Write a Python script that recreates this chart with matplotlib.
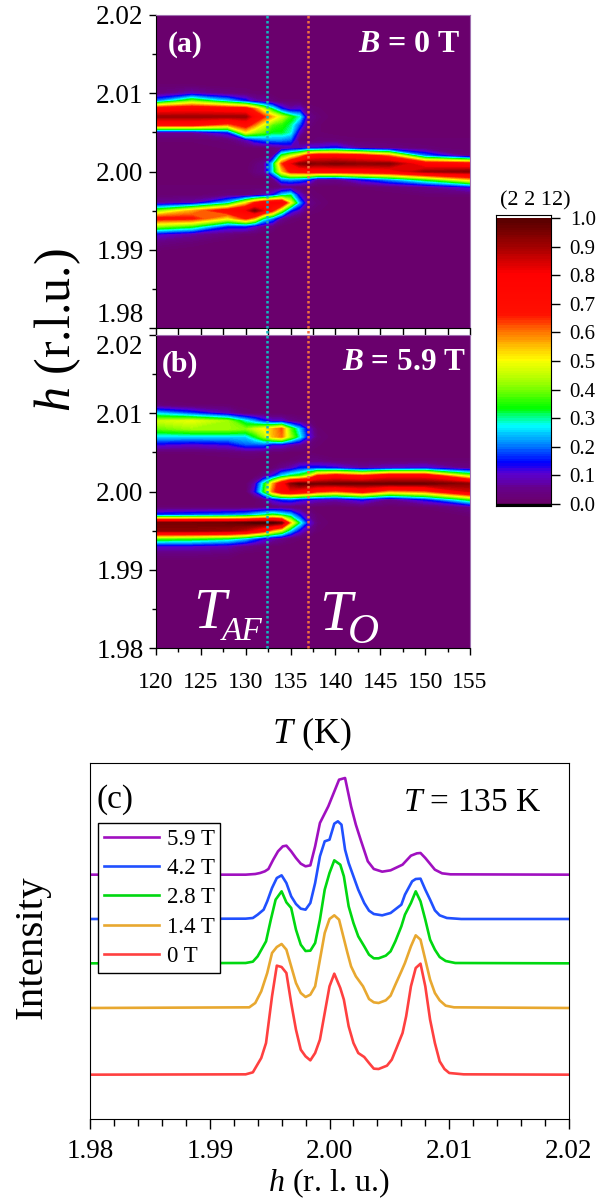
import matplotlib
matplotlib.use('Agg')
import matplotlib.pyplot as plt
import numpy as np
from matplotlib.colors import LinearSegmentedColormap
from matplotlib.ticker import MultipleLocator, FormatStrFormatter

plt.rcParams['font.family'] = ['Liberation Serif']
plt.rcParams['mathtext.fontset'] = 'custom'
plt.rcParams['mathtext.rm'] = 'Liberation Serif'
plt.rcParams['mathtext.it'] = 'Liberation Serif:italic'
plt.rcParams['mathtext.bf'] = 'Liberation Serif:bold'
plt.rcParams['mathtext.bfit'] = 'Liberation Serif:italic:bold'

# map rows, h = 1.990 ... 2.011, one list per temperature
h_rows = [1.990, 1.991, 1.992, 1.993, 1.994, 1.995, 1.996, 1.997, 1.998, 1.999, 2.000,
          2.001, 2.002, 2.003, 2.004, 2.005, 2.006, 2.007, 2.008, 2.009, 2.010, 2.011]
T_cols = [120, 124, 128, 130, 131, 132, 133, 134, 135, 136, 137, 138, 140, 143, 146, 150, 155]

map_0T = [
    [.01, .04, .12, .42, .68, .38, .06, .01, .01, 0, 0, 0, 0, 0, .01, .06, .72, .90, .74, .20, .03, .01],
    [0, .02, .07, .35, .67, .55, .08, .01, .01, 0, 0, 0, 0, 0, .01, .06, .72, .90, .76, .40, .08, .01],
    [0, 0, .03, .15, .50, .72, .25, .03, .01, 0, 0, 0, 0, .01, .02, .14, .60, .90, .74, .25, .03, 0],
    [0, 0, .01, .15, .66, .80, .50, .03, .01, 0, 0, 0, 0, .01, .08, .50, .72, .90, .72, .15, .02, 0],
    [0, 0, .01, .10, .55, .94, .65, .05, .01, 0, .03, .02, 0, .01, .15, .42, .60, .76, .60, .08, .01, 0],
    [0, 0, 0, .05, .30, .82, .76, .07, .01, 0, .05, .05, 0, .01, .18, .38, .48, .65, .45, .06, .01, 0],
    [0, 0, 0, .03, .20, .65, .80, .13, .01, .03, .26, .26, .05, .03, .20, .32, .38, .55, .30, .03, 0, 0],
    [0, 0, 0, 0, .06, .40, .80, .25, .02, .20, .52, .62, .35, .05, .20, .32, .35, .45, .15, .01, 0, 0],
    [0, 0, 0, 0, .02, .15, .50, .30, .03, .22, .68, .80, .45, .07, .18, .28, .30, .35, .08, .01, 0, 0],
    [0, 0, 0, 0, .01, .08, .22, .10, .02, .20, .70, .92, .55, .08, .02, .08, .18, .28, .10, .01, 0, 0],
    [0, 0, 0, 0, 0, .02, .05, .02, .01, .16, .72, .94, .70, .12, .01, .01, .03, .05, .02, 0, 0, 0],
    [0, 0, 0, 0, 0, .01, .02, .01, 0, .06, .72, .92, .76, .12, .02, .01, .01, .02, .01, 0, 0, 0],
    [0, 0, 0, 0, 0, 0, 0, 0, 0, .05, .72, .94, .76, .15, .02, 0, 0, 0, 0, 0, 0, 0],
    [0, 0, 0, 0, 0, 0, 0, 0, .01, .14, .74, .92, .72, .06, .01, 0, 0, 0, 0, 0, 0, 0],
    [0, 0, 0, 0, 0, 0, 0, 0, .02, .22, .76, .93, .60, .04, .01, 0, 0, 0, 0, 0, 0, 0],
    [0, 0, 0, 0, 0, 0, 0, .01, .05, .35, .90, .74, .20, .02, .01, 0, 0, 0, 0, 0, 0, 0],
    [0, 0, 0, 0, 0, 0, 0, .01, .12, .55, .93, .70, .03, .01, .01, 0, 0, 0, 0, 0, 0, 0],
]

map_59T = [
    [0, 0, .03, .10, .38, .92, .95, .16, .01, 0, 0, 0, 0, 0, 0, .01, .12, .25, .38, .45, .25, .03],
    [0, 0, .03, .10, .36, .92, .95, .18, .01, 0, 0, 0, 0, 0, 0, .01, .10, .25, .42, .48, .17, .01],
    [0, 0, .02, .08, .32, .90, .96, .20, .01, 0, 0, 0, 0, 0, 0, .02, .12, .25, .42, .42, .08, .01],
    [0, 0, 0, .04, .25, .85, .98, .22, .01, 0, 0, 0, 0, 0, 0, .03, .18, .25, .40, .28, .02, 0],
    [0, 0, 0, .03, .18, .78, 1.0, .26, .01, 0, .12, .08, 0, 0, 0, .03, .18, .32, .45, .22, .01, 0],
    [0, 0, 0, .02, .12, .70, 1.0, .30, .02, .03, .33, .30, .04, 0, 0, .02, .18, .42, .50, .15, .01, 0],
    [0, 0, 0, 0, .08, .55, 1.0, .35, .02, .12, .60, .55, .12, .01, 0, .01, .12, .55, .55, .10, 0, 0],
    [0, 0, 0, 0, .05, .45, .95, .30, .03, .16, .76, .74, .25, .05, 0, .01, .12, .60, .62, .10, 0, 0],
    [0, 0, 0, 0, .02, .25, .55, .25, .02, .18, .80, .92, .32, .08, .01, 0, .08, .42, .38, .05, 0, 0],
    [0, 0, 0, 0, .01, .12, .30, .13, .02, .14, .76, .98, .35, .14, .02, 0, .06, .28, .24, .03, 0, 0],
    [0, 0, 0, 0, 0, .05, .12, .05, .01, .12, .72, .96, .45, .15, .03, .01, .03, .12, .10, .02, 0, 0],
    [0, 0, 0, 0, 0, .01, .02, .01, 0, .10, .65, .95, .65, .15, .03, 0, .01, .02, .01, 0, 0, 0],
    [0, 0, 0, 0, 0, 0, 0, 0, 0, .08, .60, .96, .72, .13, .01, 0, 0, 0, 0, 0, 0, 0],
    [0, 0, 0, 0, 0, 0, 0, 0, .01, .14, .70, .96, .65, .07, .01, 0, 0, 0, 0, 0, 0, 0],
    [0, 0, 0, 0, 0, 0, 0, 0, 0, .05, .55, .96, .76, .10, .01, 0, 0, 0, 0, 0, 0, 0],
    [0, 0, 0, 0, 0, 0, 0, 0, .01, .14, .60, .96, .75, .12, .01, 0, 0, 0, 0, 0, 0, 0],
    [0, 0, 0, 0, 0, 0, 0, .01, .05, .35, .84, .92, .42, .04, .01, 0, 0, 0, 0, 0, 0, 0],
]

T_AF = 132.4
T_O = 136.9

# line scans at 135 K, vertical offsets included
h_0T = [1.98, 1.993, 1.9936, 1.9943, 1.9947, 1.9952, 1.9956, 1.996, 1.9964, 1.9968, 1.9972, 1.9976, 1.998, 1.9984, 1.9988, 1.9992, 1.9996, 2.0, 2.0004, 2.0009, 2.0012, 2.0016, 2.002, 2.0024, 2.0029, 2.0033, 2.0037, 2.0041, 2.0048, 2.0052, 2.0056, 2.0061, 2.0064, 2.0068, 2.0072, 2.0076, 2.008, 2.0084, 2.0088, 2.0092, 2.0096, 2.01, 2.0112, 2.02]
i_0T = [133, 134, 140, 183, 228, 368, 460, 456, 438, 348, 268, 208, 188, 176, 198, 238, 318, 398, 436, 393, 358, 278, 228, 198, 186, 168, 151, 150, 160, 178, 213, 258, 308, 398, 453, 466, 398, 298, 228, 173, 150, 138, 134, 133]
h_14T = [1.98, 1.9933, 1.9938, 1.9943, 1.9948, 1.9952, 1.9956, 1.996, 1.9964, 1.9968, 1.9972, 1.9976, 1.998, 1.9984, 1.9988, 1.9992, 1.9996, 2.0, 2.0004, 2.0008, 2.0015, 2.0018, 2.0022, 2.0028, 2.0033, 2.0037, 2.0041, 2.0047, 2.0051, 2.0055, 2.006, 2.0063, 2.0068, 2.0072, 2.0076, 2.008, 2.0084, 2.0088, 2.0092, 2.0097, 2.0104, 2.02]
i_14T = [333, 335, 348, 383, 438, 498, 516, 525, 508, 458, 408, 378, 366, 373, 398, 478, 558, 600, 611, 598, 498, 458, 428, 398, 360, 350, 348, 356, 370, 403, 443, 468, 518, 551, 538, 478, 418, 378, 356, 340, 335, 333]
h_28T = [1.98, 1.993, 1.9936, 1.994, 1.9947, 1.9951, 1.9955, 1.996, 1.9964, 1.9968, 1.9972, 1.9976, 1.998, 1.9984, 1.9988, 1.9992, 1.9996, 2.0, 2.0004, 2.0009, 2.0012, 2.0016, 2.002, 2.0024, 2.0029, 2.0033, 2.0037, 2.0041, 2.0047, 2.0051, 2.0055, 2.006, 2.0063, 2.0068, 2.0072, 2.0076, 2.008, 2.0084, 2.0088, 2.0092, 2.0097, 2.0105, 2.02]
i_28T = [467, 468, 472, 488, 533, 598, 658, 683, 650, 633, 568, 523, 504, 505, 528, 598, 688, 738, 776, 763, 728, 638, 588, 548, 518, 493, 482, 482, 490, 503, 533, 578, 613, 648, 683, 653, 598, 538, 508, 486, 474, 468, 467]
h_42T = [1.98, 1.993, 1.9936, 1.994, 1.9945, 1.9948, 1.9952, 1.9956, 1.996, 1.9964, 1.9968, 1.9972, 1.9976, 1.998, 1.9984, 1.9988, 1.9992, 1.9996, 2.0, 2.0004, 2.0007, 2.001, 2.0013, 2.0016, 2.002, 2.0024, 2.0029, 2.0033, 2.0037, 2.0044, 2.0051, 2.006, 2.0063, 2.0069, 2.0072, 2.0076, 2.008, 2.0084, 2.0088, 2.0092, 2.0098, 2.011, 2.02]
i_42T = [600, 601, 603, 613, 628, 653, 693, 723, 731, 708, 668, 645, 631, 628, 648, 708, 788, 833, 838, 886, 893, 883, 808, 768, 728, 688, 648, 625, 615, 611, 618, 643, 673, 713, 720, 721, 688, 658, 626, 611, 603, 600, 600]
h_59T = [1.98, 1.993, 1.9938, 1.9942, 1.9946, 1.9949, 1.9953, 1.9957, 1.9961, 1.9964, 1.9968, 1.9972, 1.9976, 1.998, 1.9984, 1.9988, 1.9992, 1.9999, 2.0008, 2.0013, 2.0018, 2.0022, 2.0026, 2.0032, 2.0037, 2.0044, 2.0051, 2.0061, 2.0068, 2.0073, 2.0076, 2.008, 2.0088, 2.0094, 2.0101, 2.02]
i_59T = [733, 733, 735, 738, 743, 750, 778, 803, 818, 820, 803, 783, 766, 758, 761, 818, 888, 938, 1018, 1023, 938, 883, 838, 773, 750, 742, 746, 763, 790, 797, 798, 783, 748, 737, 734, 733]

scan_labels = ['5.9 T', '4.2 T', '2.8 T', '1.4 T', '0 T']
scan_h = [h_59T, h_42T, h_28T, h_14T, h_0T]
scan_i = [i_59T, i_42T, i_28T, i_14T, i_0T]
scan_colors = ['#a010c0', '#2050ff', '#00d810', '#e8a830', '#ff4040']

cmap = LinearSegmentedColormap.from_list('rainbowish', [
    (0.0, '#6a006a'), (0.05, '#66008c'), (0.10, '#5a00d0'), (0.14, '#0000ff'), (0.21, '#0090ff'),
    (0.27, '#00ffff'), (0.33, '#00ff00'), (0.42, '#a0ff00'), (0.50, '#ffff00'), (0.58, '#ff9000'),
    (0.66, '#ff1000'), (0.80, '#ff0000'), (0.90, '#a00000'), (1.0, '#500000')])

W, H = 605, 1200


def px_axes(x0, y0, x1, y1):
    # pixel box, y counted from the top of the image
    return fig.add_axes([x0 / W, 1 - y1 / H, (x1 - x0) / W, (y1 - y0) / H])


def put(x, y, s, **kw):
    fig.text(x / W, 1 - y / H, s, va='baseline', **kw)


fig = plt.figure(figsize=(6.05, 12), dpi=100)

ax_a = px_axes(156, 15, 470, 328)
ax_b = px_axes(156, 335, 470, 648)
h_full = np.concatenate(([1.98, 1.989], h_rows, [2.012, 2.02]))
levels = np.linspace(0, 1, 121)

for ax, z in zip([ax_a, ax_b], [map_0T, map_59T]):
    grid = np.pad(np.array(z).T, ((2, 2), (0, 0)))
    ax.contourf(T_cols, h_full, grid, levels=levels, cmap=cmap, vmin=0, vmax=1, antialiased=False)
    ax.set_xlim(120, 155)
    ax.set_ylim(1.98, 2.02)
    ax.set_yticks([1.98, 1.99, 2.00, 2.01, 2.02])
    ax.xaxis.set_major_locator(MultipleLocator(5))
    ax.xaxis.set_minor_locator(MultipleLocator(2.5))
    ax.yaxis.set_minor_locator(MultipleLocator(0.005))
    ax.yaxis.set_major_formatter(FormatStrFormatter('%.2f'))
    ax.tick_params(axis='y', which='major', length=5, width=1, labelsize=19.5, pad=4)
    ax.tick_params(axis='x', which='major', length=5, width=1, labelsize=17, pad=12)
    ax.tick_params(which='minor', length=3, width=1)
    ax.spines['top'].set_color('#a070b0')
    ax.spines['right'].set_color('#a070b0')
ax_a.tick_params(axis='x', which='both', labelbottom=False, length=5)
fig.canvas.draw()
ax_a.get_yticklabels()[0].set_va('bottom')
ax_b.get_yticklabels()[-1].set_va('top')

# dotted transition lines run through both panels
for T, c in [(T_AF, '#10b8c0'), (T_O, '#f07040')]:
    ax_b.plot([T, T], [0, 2.03], color=c, lw=1.8, ls=(0, (1, 1)), clip_on=False, zorder=5,
              transform=ax_b.get_xaxis_transform())

put(168, 52, '(a)', color='white', fontsize=21.5, fontweight='bold')
put(162, 372, '(b)', color='white', fontsize=21.5, fontweight='bold')
put(358, 52, r'$\mathbfit{B}$ = 0 T', color='white', fontsize=23, fontweight='bold')
put(342, 370, r'$\mathbfit{B}$ = 5.9 T', color='white', fontsize=22.5, fontweight='bold')
put(193, 628, 'T', color='white', fontsize=42, style='italic')
put(222, 640, 'AF', color='white', fontsize=24, style='italic')
put(319, 630, 'T', color='white', fontsize=42, style='italic')
put(348, 643, 'O', color='white', fontsize=31, style='italic')

put(70, 330, r'$\mathit{h}$ (r.l.u.)', fontsize=36, rotation=90, ha='center', rotation_mode='anchor')
put(312, 743, r'$\mathit{T}$ (K)', fontsize=26, ha='center')

# colour bar, drawn by hand so the white and black slivers at the ends fit
cax = px_axes(496, 215, 551, 506)
cax.pcolormesh([0, 1], levels, levels[:-1].reshape(-1, 1), cmap=cmap, vmin=0, vmax=1)
cax.set_xlim(0, 1)
cax.set_ylim(-0.007, 1.0105)
cax.axhspan(-0.007, 0, color='black')
cax.set_xticks([])
cax.yaxis.tick_right()
cax.set_yticks(np.arange(0, 1.01, 0.1))
cax.yaxis.set_major_formatter(FormatStrFormatter('%.1f'))
cax.tick_params(length=6.5, width=1, labelsize=15, pad=7)
put(500, 205, '(2 2 12)', fontsize=16)

# line scans
ax_c = px_axes(90, 763, 569, 1119)
for lab, hh, ii, c in zip(scan_labels, scan_h, scan_i, scan_colors):
    ax_c.plot(hh, ii, color=c, lw=1.9, label=lab)
ax_c.set_xlim(1.98, 2.02)
ax_c.set_ylim(0, 1068)
ax_c.set_yticks([])
ax_c.xaxis.set_major_locator(MultipleLocator(0.01))
ax_c.xaxis.set_minor_locator(MultipleLocator(0.002))
ax_c.xaxis.set_major_formatter(FormatStrFormatter('%.2f'))
ax_c.tick_params(which='major', length=7.5, width=1, labelsize=19.5, pad=7)
ax_c.tick_params(which='minor', length=5, width=1)
leg = ax_c.legend(loc='upper left', bbox_to_anchor=(8 / 479, 296 / 356), fontsize=16.5,
                  fancybox=False, framealpha=1, edgecolor='black', borderpad=0.25, labelspacing=0.36,
                  handlelength=2.4, handletextpad=0.35, borderaxespad=0)
leg.get_frame().set_linewidth(1)

put(97, 808, '(c)', fontsize=24)
put(403, 811, r'$\mathit{T}$ = 135 K', fontsize=24)
put(42, 947, 'Intensity', fontsize=29.5, rotation=90, ha='center', rotation_mode='anchor')
put(328.5, 1191.5, r'$\mathit{h}$ (r. l. u.)', fontsize=23, ha='center')

fig.savefig('out.png', dpi=100)
